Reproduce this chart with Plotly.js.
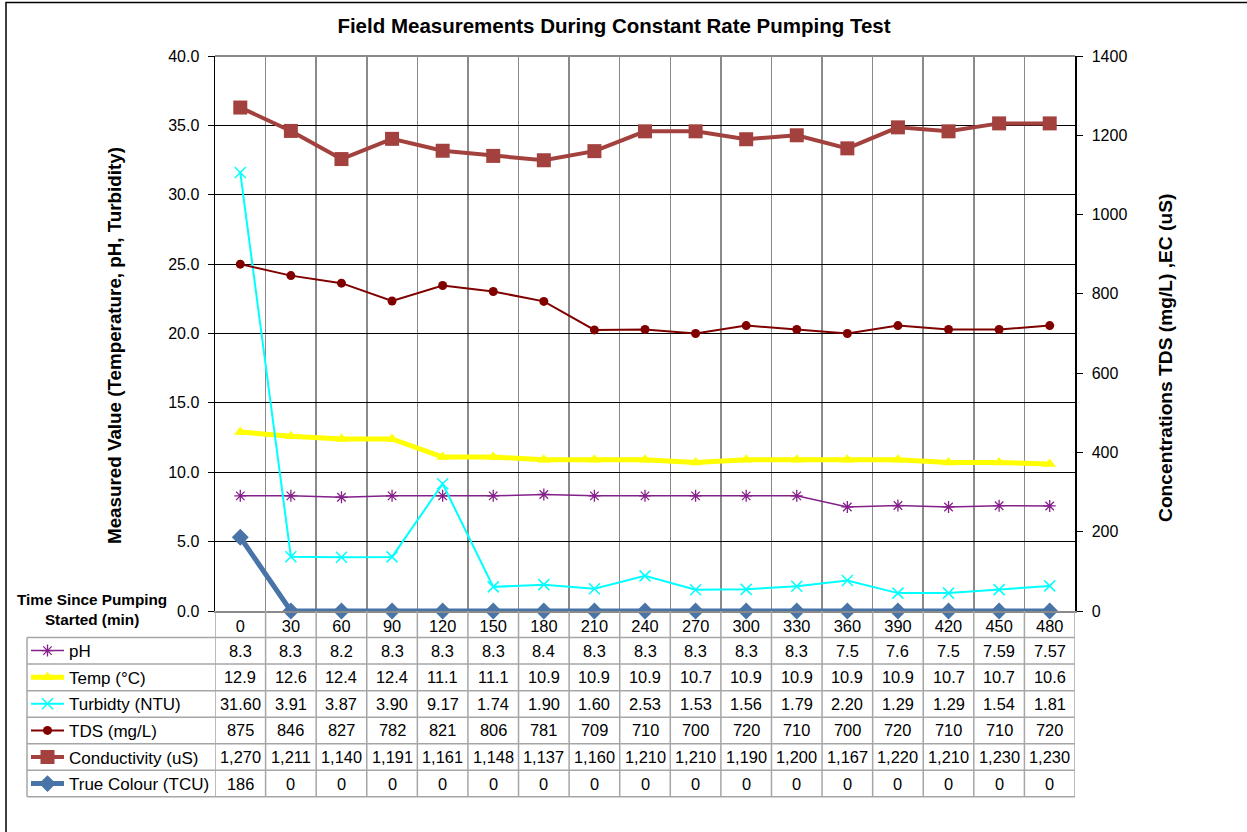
<!DOCTYPE html>
<html>
<head>
<meta charset="utf-8">
<script src="https://cdn.plot.ly/plotly-3.0.1.min.js"></script>
<style>
  html, body { margin: 0; padding: 0; background: #fff; }
  #chart { width: 1247px; height: 832px; }
</style>
</head>
<body>
<div id="chart"></div>
<script>
// ---------- data ----------
const timeMin = ["0","30","60","90","120","150","180","210","240","270","300","330","360","390","420","450","480"];
const pH = [8.3,8.3,8.2,8.3,8.3,8.3,8.4,8.3,8.3,8.3,8.3,8.3,7.5,7.6,7.5,7.59,7.57];
const tempC = [12.9,12.6,12.4,12.4,11.1,11.1,10.9,10.9,10.9,10.7,10.9,10.9,10.9,10.9,10.7,10.7,10.6];
const turbidity = [31.60,3.91,3.87,3.90,9.17,1.74,1.90,1.60,2.53,1.53,1.56,1.79,2.20,1.29,1.29,1.54,1.81];
const tds = [875,846,827,782,821,806,781,709,710,700,720,710,700,720,710,710,720];
const conductivity = [1270,1211,1140,1191,1161,1148,1137,1160,1210,1210,1190,1200,1167,1220,1210,1230,1230];
const trueColour = [186,0,0,0,0,0,0,0,0,0,0,0,0,0,0,0,0];

const seriesNames = ["pH","Temp (°C)","Turbidty (NTU)","TDS (mg/L)","Conductivity (uS)","True Colour (TCU)"];

// ---------- layout geometry (pixels -> paper) ----------
const FONT = "Liberation Sans, Arial, sans-serif";
const W = 1247, H = 832;
const L = 215, R = 1075, T = 55.5, B = 611.5;
const px2x = p => (p - L) / (R - L);
const py2y = p => (B - p) / (B - T);
const rowH = 26.6;
const tableLeft = 27;
const nRows = 7; // header + 6 series rows
const rowEdge = i => B + i * rowH;

const fmt = [
  v => String(v),
  v => v.toFixed(1),
  v => v.toFixed(2),
  v => String(v),
  v => v.toLocaleString("en-US"),
  v => String(v)
];
const seriesData = [pH, tempC, turbidity, tds, conductivity, trueColour];

// ---------- traces ----------
const traces = [
  {name: seriesNames[0], x: timeMin, y: pH, yaxis: "y", mode: "lines+markers",
   line: {color: "#84208A", width: 1.5},
   marker: {symbol: "asterisk-open", size: 10, color: "#84208A", line: {color: "#84208A", width: 1.3}}},
  {name: seriesNames[1], x: timeMin, y: tempC, yaxis: "y", mode: "lines+markers",
   line: {color: "#FFFF00", width: 5},
   marker: {symbol: "triangle-up", size: 11, color: "#FFFF00"}},
  {name: seriesNames[2], x: timeMin, y: turbidity, yaxis: "y", mode: "lines+markers",
   line: {color: "#00FFFF", width: 2},
   marker: {symbol: "x-thin-open", size: 11, color: "#00FFFF", line: {color: "#00FFFF", width: 1.5}}},
  {name: seriesNames[3], x: timeMin, y: tds, yaxis: "y2", mode: "lines+markers",
   line: {color: "#800000", width: 2},
   marker: {symbol: "circle", size: 9, color: "#800000"}},
  {name: seriesNames[4], x: timeMin, y: conductivity, yaxis: "y2", mode: "lines+markers",
   line: {color: "#A2413D", width: 4},
   marker: {symbol: "square", size: 14, color: "#A2413D"}},
  {name: seriesNames[5], x: timeMin, y: trueColour, yaxis: "y2", mode: "lines+markers",
   line: {color: "#4874A8", width: 5},
   marker: {symbol: "diamond", size: 13, color: "#4874A8"}}
];
traces.forEach((t, i) => { t.legendgroup = "g" + i; t.cliponaxis = false; });

// ---------- shapes (table grid, borders) ----------
const shapes = [];
const gridGray = "#8A8A8A";
const tableGray = "#A6A6A6";
// outer chart border
shapes.push({type: "rect", xref: "paper", yref: "paper",
  x0: px2x(6), x1: px2x(1260), y0: py2y(850), y1: py2y(2),
  line: {color: "#000", width: 1.5}, layer: "below"});
// top plot border
shapes.push({type: "line", xref: "paper", yref: "paper", x0: 0, x1: 1, y0: 1, y1: 1,
  line: {color: gridGray, width: 2}});
// vertical lines through the table at category boundaries
for (let i = 0; i <= timeMin.length; i++) {
  shapes.push({type: "line", xref: "x", yref: "paper", x0: i - 0.5, x1: i - 0.5,
    y0: py2y(rowEdge(nRows)), y1: 0, line: {color: tableGray, width: 1.5}});
}
// legend column left edge
shapes.push({type: "line", xref: "paper", yref: "paper", x0: px2x(tableLeft), x1: px2x(tableLeft),
  y0: py2y(rowEdge(nRows)), y1: py2y(rowEdge(1)), line: {color: tableGray, width: 1.5}});
// horizontal row lines
for (let r = 1; r <= nRows; r++) {
  shapes.push({type: "line", xref: "paper", yref: "paper", x0: px2x(tableLeft), x1: 1,
    y0: py2y(rowEdge(r)), y1: py2y(rowEdge(r)), line: {color: tableGray, width: 1.5}});
}

// ---------- annotations (table cells + titles) ----------
const annotations = [];
seriesData.forEach((arr, s) => {
  const yc = py2y(rowEdge(s + 1) + rowH / 2);
  arr.forEach((v, i) => {
    annotations.push({xref: "x", yref: "paper", x: i, y: yc,
      text: fmt[s](v), showarrow: false, xanchor: "center", yanchor: "middle",
      font: {family: FONT, size: 16.4, color: "#000"}});
  });
});
annotations.push({xref: "paper", yref: "paper", x: px2x(92), y: py2y(610),
  text: "<b>Time Since Pumping<br>Started (min)</b>", showarrow: false,
  xanchor: "center", yanchor: "middle", align: "center",
  font: {family: FONT, size: 15.3, color: "#000"}});
annotations.push({xref: "paper", yref: "paper", x: px2x(115), y: py2y(346),
  text: "<b>Measured Value (Temperature, pH, Turbidity)</b>", showarrow: false, textangle: -90,
  xanchor: "center", yanchor: "middle", font: {family: FONT, size: 18.8, color: "#000"}});
annotations.push({xref: "paper", yref: "paper", x: px2x(1166), y: py2y(358),
  text: "<b>Concentrations TDS (mg/L) ,EC (uS)</b>", showarrow: false, textangle: -90,
  xanchor: "center", yanchor: "middle", font: {family: FONT, size: 19.2, color: "#000"}});

const layout = {
  width: W, height: H,
  margin: {l: L, r: W - R, t: T, b: H - B, pad: 0},
  paper_bgcolor: "#fff", plot_bgcolor: "#fff",
  font: {family: FONT, size: 16, color: "#000"},
  title: {text: "<b>Field Measurements During Constant Rate Pumping Test</b>",
    font: {family: FONT, size: 20.5, color: "#000"},
    xref: "container", yref: "container", x: 614 / W, y: 1 - 26 / H,
    xanchor: "center", yanchor: "middle"},
  xaxis: {type: "category", categoryorder: "array", categoryarray: timeMin,
    range: [-0.5, timeMin.length - 0.5], tickson: "boundaries",
    showgrid: true, gridcolor: gridGray, gridwidth: 1.5,
    showline: true, linecolor: gridGray, linewidth: 1.5,
    ticks: "", ticklabelstandoff: 0, zeroline: false,
    tickfont: {family: FONT, size: 16.4, color: "#000"}, fixedrange: true},
  yaxis: {range: [0, 40], dtick: 5, tick0: 0, tickformat: ".1f",
    showgrid: true, gridcolor: "#000", gridwidth: 1,
    showline: true, linecolor: "#000", linewidth: 1.5,
    ticks: "outside", ticklen: 6, tickcolor: "#000", zeroline: false, ticklabelstandoff: 5,
    tickfont: {family: FONT, size: 16, color: "#000"}, fixedrange: true},
  yaxis2: {range: [0, 1400], dtick: 200, tick0: 0, overlaying: "y", side: "right",
    showgrid: false, showline: true, linecolor: "#000", linewidth: 1.5,
    ticks: "outside", ticklen: 6, tickcolor: "#000", zeroline: false, ticklabelstandoff: 6,
    tickfont: {family: FONT, size: 16, color: "#000"}, fixedrange: true},
  showlegend: true,
  legend: {x: px2x(26), y: py2y(rowEdge(1) - 4.5), xanchor: "left", yanchor: "top",
    orientation: "v", traceorder: "grouped", tracegroupgap: 1.5, itemwidth: 33,
    bgcolor: "rgba(0,0,0,0)", borderwidth: 0,
    font: {family: FONT, size: 17, color: "#000"}, itemclick: false, itemdoubleclick: false},
  shapes: shapes,
  annotations: annotations
};

Plotly.newPlot("chart", traces, layout, {displayModeBar: false, staticPlot: true});
</script>
</body>
</html>
